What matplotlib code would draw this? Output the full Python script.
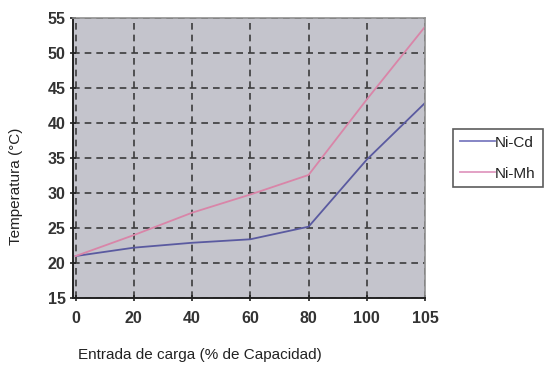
import matplotlib
matplotlib.use("Agg")
import matplotlib.pyplot as plt

categorias = ["0", "20", "40", "60", "80", "100", "105"]
ni_cd = [21.0, 22.2, 22.9, 23.4, 25.2, 34.8, 42.9]
ni_mh = [21.0, 24.0, 27.2, 29.8, 32.6, 43.4, 53.8]

fig = plt.figure(figsize=(5.47, 3.67), dpi=100)
ax = fig.add_axes([0.134, 0.188, 0.643, 0.762])
ax.set_facecolor("#c4c4cc")

x = list(range(len(categorias)))
ax.plot(x, ni_cd, color="#5a5aa0", lw=1.3, label="Ni-Cd")
ax.plot(x, ni_mh, color="#d985a8", lw=1.3, label="Ni-Mh")

ax.set_xlim(-0.04, len(categorias) - 1)
ax.set_ylim(15, 55)
ax.set_xticks(x)
ax.set_xticklabels(categorias)
ax.set_yticks(range(15, 56, 5))

# numeros de los ejes
for lab in ax.get_xticklabels() + ax.get_yticklabels():
    lab.set_fontfamily(["Liberation Sans", "DejaVu Sans"])
    lab.set_fontsize(11.5)
    lab.set_fontweight("bold")
    lab.set_color("#333333")

ax.tick_params(axis="both", direction="inout", length=5, width=1.2, color="#222222")
ax.tick_params(axis="x", pad=7)
ax.tick_params(axis="y", pad=3)

ax.grid(True, linestyle=(0, (4, 3)), color="#3c3c3c", lw=1.2)
ax.set_axisbelow(True)

for s in ["left", "bottom"]:
    ax.spines[s].set_color("#222222")
    ax.spines[s].set_linewidth(1.4)
for s in ["top", "right"]:
    ax.spines[s].set_color("#909090")
    ax.spines[s].set_linewidth(1.2)

lab_font = dict(family=["Liberation Sans", "DejaVu Sans"], size=11, color="#222222")
ax.set_xlabel("Entrada de carga (% de Capacidad)", **lab_font)
ax.set_ylabel("Temperatura (°C)", **lab_font)
ax.xaxis.set_label_coords(0.36, -0.18)
ax.yaxis.set_label_coords(-0.142, 0.40)

leg = ax.legend(loc="center left", bbox_to_anchor=(1.08, 0.50), frameon=True,
                fancybox=False, edgecolor="#333333", handlelength=2.3,
                handletextpad=0.0, borderpad=0.45, labelspacing=1.1,
                borderaxespad=0.0,
                prop={"family": ["Liberation Sans", "DejaVu Sans"], "size": 11})
leg.get_frame().set_linewidth(1.2)
leg.get_lines()[0].set_color("#7c7cc0")
leg.get_lines()[1].set_color("#e09ac0")
for t in leg.get_texts():
    t.set_color("#222222")

fig.savefig("out.png", dpi=100)
